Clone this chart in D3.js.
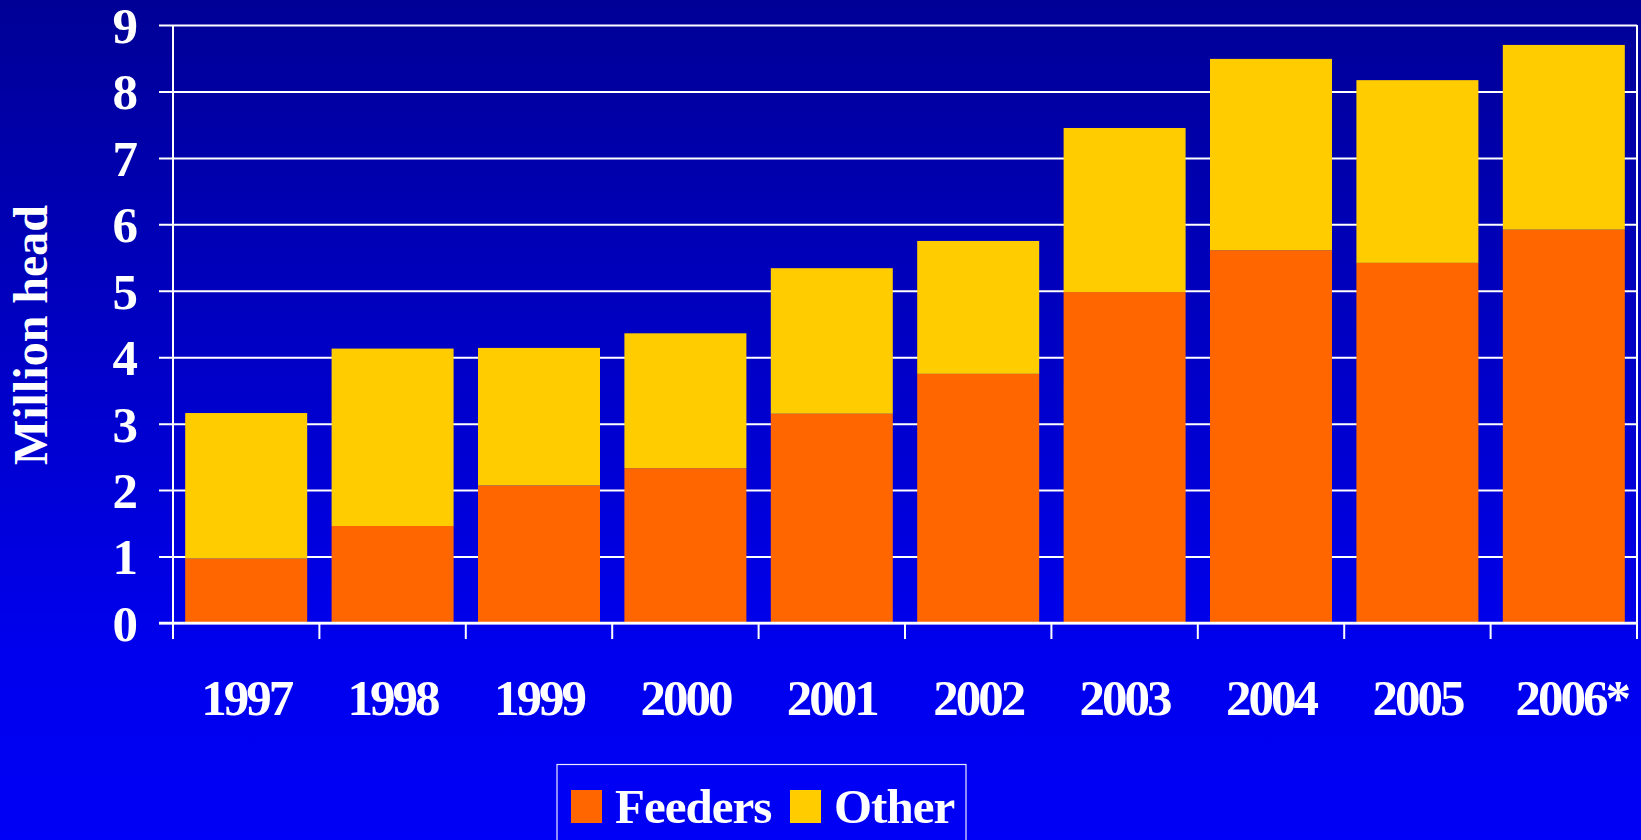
<!DOCTYPE html>
<html><head><meta charset="utf-8">
<script src="https://cdn.jsdelivr.net/npm/d3@7"></script>
<style>html,body{margin:0;padding:0;overflow:hidden;background:#0000f0}</style>
</head><body>
<script>
const years = ["1997","1998","1999","2000","2001","2002","2003","2004","2005","2006*"];
const feeders = [0.97,1.46,2.07,2.33,3.15,3.75,4.98,5.61,5.42,5.92];
const other   = [2.19,2.67,2.07,2.03,2.19,2.00,2.47,2.88,2.75,2.78];
const yTicks = [0,1,2,3,4,5,6,7,8,9];
const seriesNames = ["Feeders","Other"];
const seriesColors = ["#FF6600","#FFCC00"];

const W = 1641, H = 840;
const svg = d3.select("body").append("svg").attr("width", W).attr("height", H);
const defs = svg.append("defs");
const grad = defs.append("linearGradient").attr("id","bg").attr("x1",0).attr("y1",0).attr("x2",0).attr("y2",1);
grad.append("stop").attr("offset","0%").attr("stop-color","#000096");
grad.append("stop").attr("offset","78%").attr("stop-color","#0000ee");
grad.append("stop").attr("offset","100%").attr("stop-color","#0000f6");
svg.append("rect").attr("width",W).attr("height",H).attr("fill","url(#bg)");

const font = "'Liberation Serif','Times New Roman',serif";
const x0 = 173, x1 = 1637, yBot = 623, yTop = 25;
const x = d3.scaleBand().domain(years).range([x0, x1]).paddingInner(0.1667).paddingOuter(0.0833);
const y = d3.scaleLinear().domain([0, 9]).range([yBot, yTop]);

// gridlines + y ticks
const yAxis = d3.axisLeft(y).tickValues(yTicks).tickSize(-(x1 - x0)).tickSizeOuter(0).tickPadding(22).tickFormat(d3.format("d"));
const gy = svg.append("g").attr("transform", `translate(${x0},0)`).call(yAxis);
gy.select(".domain").remove();
gy.selectAll(".tick line").attr("stroke","#fff").attr("stroke-width",2).attr("x2", x1 - x0).attr("x1", -14);
gy.selectAll(".tick text").attr("fill","#fff").attr("font-family",font).attr("font-weight","bold")
  .attr("font-size",51).attr("x",-35).attr("dy","0.34em");

// stacked bars
const stackData = years.map((yr,i)=>({year:yr, Feeders:feeders[i], Other:other[i]}));
const stacked = d3.stack().keys(seriesNames)(stackData);
svg.append("g").selectAll("g").data(stacked).join("g")
  .attr("fill",(d,i)=>seriesColors[i])
  .selectAll("rect").data(d=>d).join("rect")
  .attr("x",d=>x(d.data.year)).attr("width",x.bandwidth())
  .attr("y",d=>y(d[1])).attr("height",d=>y(d[0])-y(d[1]));

// axis lines
svg.append("line").attr("x1",x0).attr("x2",x0).attr("y1",yTop).attr("y2",yBot+16).attr("stroke","#fff").attr("stroke-width",2);
svg.append("line").attr("x1",x1).attr("x2",x1).attr("y1",yTop).attr("y2",yBot+16).attr("stroke","#fff").attr("stroke-width",2);
svg.append("line").attr("x1",x0-14).attr("x2",x1).attr("y1",yBot).attr("y2",yBot).attr("stroke","#fff").attr("stroke-width",2.5);

// category ticks at band boundaries
const step = x.step();
svg.append("g").selectAll("line").data(d3.range(years.length+1)).join("line")
  .attr("x1",i=>x0+i*step).attr("x2",i=>x0+i*step).attr("y1",yBot).attr("y2",yBot+16)
  .attr("stroke","#fff").attr("stroke-width",2);

// category labels
svg.append("g").selectAll("text").data(years).join("text")
  .attr("x",d=>x(d)+x.bandwidth()/2 + (d.endsWith("*")?8:0)).attr("y",715)
  .attr("text-anchor","middle").attr("fill","#fff").attr("font-family",font).attr("font-weight","bold")
  .attr("font-size",51).attr("letter-spacing","-3px").text(d=>d);

// y title
svg.append("text").attr("transform","translate(47,335) rotate(-90)").attr("text-anchor","middle")
  .attr("fill","#fff").attr("font-family",font).attr("font-weight","bold").attr("font-size",48).text("Million head");

// legend
const lg = svg.append("g");
lg.append("rect").attr("x",557).attr("y",764.5).attr("width",409).attr("height",100)
  .attr("fill","none").attr("stroke","#e8e8ff").attr("stroke-width",1.2);
const legendX = [571, 790], textX = [615, 834];
seriesNames.forEach((n,i)=>{
  lg.append("rect").attr("x",legendX[i]).attr("y",790).attr("width",31).attr("height",33).attr("fill",seriesColors[i]);
  lg.append("text").attr("x",textX[i]).attr("y",822.5).attr("fill","#fff").attr("font-family",font)
    .attr("font-weight","bold").attr("font-size",49).attr("letter-spacing","-1px").text(n);
});
</script>
</body></html>
